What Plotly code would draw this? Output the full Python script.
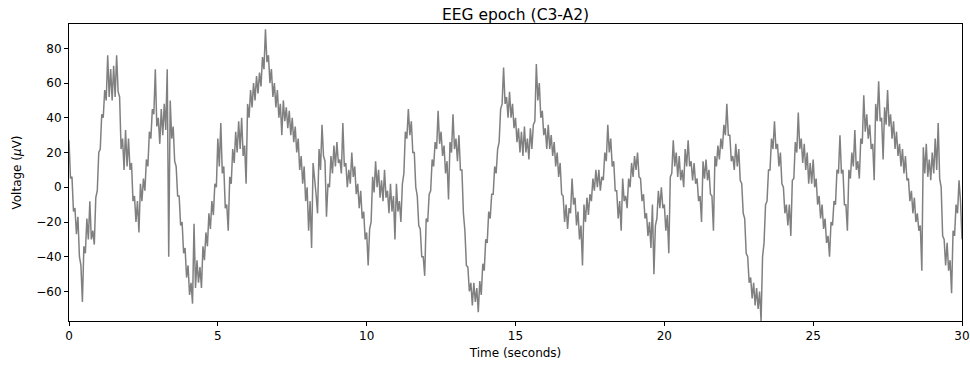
import numpy as np
import plotly.graph_objects as go

# sample spacing of the read-off trace (seconds)
sample_step = 0.05
voltage_uv = [
    27, 5, 6, -14, -12, -27, -17, -40, -45, -66,
    -34, -38, -18, -30, -8, -30, -25, -33, -6, -2,
    20, 22, 42, 40, 56, 50, 76, 52, 68, 50,
    70, 52, 76, 55, 52, 22, 28, 10, 33, 12,
    28, 10, 14, -8, -5, -20, -8, -26, 2, -8,
    5, -2, 16, 12, 32, 28, 45, 42, 68, 35,
    40, 25, 45, 30, 48, 33, 68, -40, 50, 28,
    35, 15, 12, -5, -5, -22, -20, -38, -35, -52,
    -45, -62, -55, -67, -21, -58, -42, -55, -46, -58,
    -34, -42, -26, -34, -15, -24, -8, -16, 2, 0,
    28, 12, 37, 8, 12, -12, -10, -25, 6, 2,
    22, 14, 32, 20, 38, 22, 40, 18, 24, 2,
    48, 40, 56, 46, 60, 50, 64, 54, 66, 58,
    75, 68, 91, 72, 76, 60, 68, 52, 60, 46,
    56, 40, 48, 30, 50, 38, 46, 34, 44, 30,
    40, 26, 35, 20, 28, 10, 18, 2, 12, -8,
    0, -25, -8, -35, 14, 2, -4, -15, 22, 10,
    36, 18, 15, -17, 2, 0, 18, 8, 24, 12,
    26, 14, 16, 8, 37, 12, 14, 0, 10, 2,
    20, 6, 12, -4, 2, -12, -2, -18, -14, -30,
    -26, -45, -24, -20, 6, -3, 15, 0, 10, -6,
    4, -8, 10, -6, -2, -15, 2, -14, -5, -30,
    2, -14, -8, -20, 2, 8, 32, 28, 45, 30,
    38, 20, 20, 0, -5, -22, -24, -40, -40, -51,
    -18, -20, -4, -2, 16, 12, 26, 22, 44, 25,
    32, 18, 24, 8, 15, -7, 26, 20, 42, 22,
    28, 15, 30, 10, 10, -15, -25, -45, -46, -60,
    -55, -68, -55, -66, -58, -72, -54, -62, -44, -48,
    -30, -32, -14, -18, -4, -4, 12, 8, 22, 26,
    45, 48, 69, 48, 52, 40, 55, 40, 48, 34,
    40, 26, 34, 20, 32, 18, 35, 20, 28, 16,
    34, 22, 36, 38, 71, 50, 60, 40, 44, 30,
    34, 22, 36, 22, 30, 18, 26, 12, 20, 6,
    14, -4, -5, -20, -10, -24, -12, -15, 5, -10,
    -6, -22, -14, -30, -22, -45, -10, -20, -6, -16,
    -4, -8, 5, -2, 10, 0, 10, -2, 6, 4,
    20, 15, 36, 20, 28, 12, 15, -2, -2, -18,
    -8, -25, 5, -8, -5, -12, 5, 0, 14, 6,
    18, 10, 20, 6, 5, -8, -4, -18, -15, -28,
    -20, -35, -10, -50, -22, -18, -2, -12, 0, -12,
    -10, -25, -16, -38, 6, 8, 27, 12, 20, 6,
    18, 4, 10, 0, 22, 12, 27, 12, 15, 4,
    14, 2, 5, -8, -5, -20, 15, 5, 16, 4,
    10, -4, -5, -25, 18, 12, 24, 16, 28, 22,
    36, 30, 48, 30, 30, 15, 18, 10, 25, 12,
    22, 4, 2, -15, -18, -38, -40, -55, -52, -64,
    -55, -68, -58, -70, -60, -77, -40, -32, -10, -8,
    10, 10, 28, 22, 38, 22, 25, 12, 20, 2,
    0, -15, -10, -22, -10, -28, 4, 5, 26, 20,
    43, 22, 28, 14, 25, 10, 20, 2, 14, 2,
    16, 0, 5, -10, -5, -18, -10, -24, -18, -32,
    -28, -40, -20, -22, -8, -10, 10, 8, 30, 8,
    10, -10, -10, -25, 10, 5, 20, 12, 33, 10,
    15, 5, 28, 25, 53, 32, 42, 28, 36, 22,
    25, 4, 48, 38, 61, 38, 40, 16, 46, 36,
    56, 35, 42, 28, 38, 22, 32, 18, 25, 12,
    22, 8, 18, 4, 5, -8, -2, -15, -6, -20,
    -15, -25, -22, -48, 23, 8, 25, 6, 16, 4,
    20, 8, 28, 10, 37, 5, 0, -28, -30, -45,
    -32, -48, -42, -61, -25, -28, -10, -15, 4, -8,
    -30,
]
time_s = np.arange(len(voltage_uv)) * sample_step

x_ticks = [0, 5, 10, 15, 20, 25, 30]
y_ticks = [-60, -40, -20, 0, 20, 40, 60, 80]

fig = go.Figure()
fig.add_trace(go.Scatter(
    x=time_s, y=voltage_uv, mode="lines",
    line=dict(color="#808080", width=1.5),
    showlegend=False, hoverinfo="skip",
))

axis_common = dict(
    showline=True, linecolor="black", linewidth=1, mirror=True,
    ticks="outside", ticklen=4, tickwidth=1, tickcolor="black",
    showgrid=False, zeroline=False, automargin=False,
    tickfont=dict(family="DejaVu Sans", size=12, color="black"),
)

fig.update_layout(
    width=970, height=367,
    margin=dict(l=69, r=8, t=24, b=46),
    paper_bgcolor="white", plot_bgcolor="white",
    title=dict(text="EEG epoch (C3-A2)", x=0.5315, xanchor="center",
               y=0.975, yanchor="top",
               font=dict(family="DejaVu Sans", size=15.5, color="black")),
    xaxis=dict(range=[0, 30], tickvals=x_ticks,
               title=dict(text="Time (seconds)", standoff=6,
                          font=dict(family="DejaVu Sans", size=12, color="black")),
               **axis_common),
    yaxis=dict(range=[-77, 94], tickvals=y_ticks,
               title=dict(text="Voltage (<i>μ</i>V)", standoff=12,
                          font=dict(family="DejaVu Sans", size=12, color="black")),
               **axis_common),
)

fig.write_html("out.html")
